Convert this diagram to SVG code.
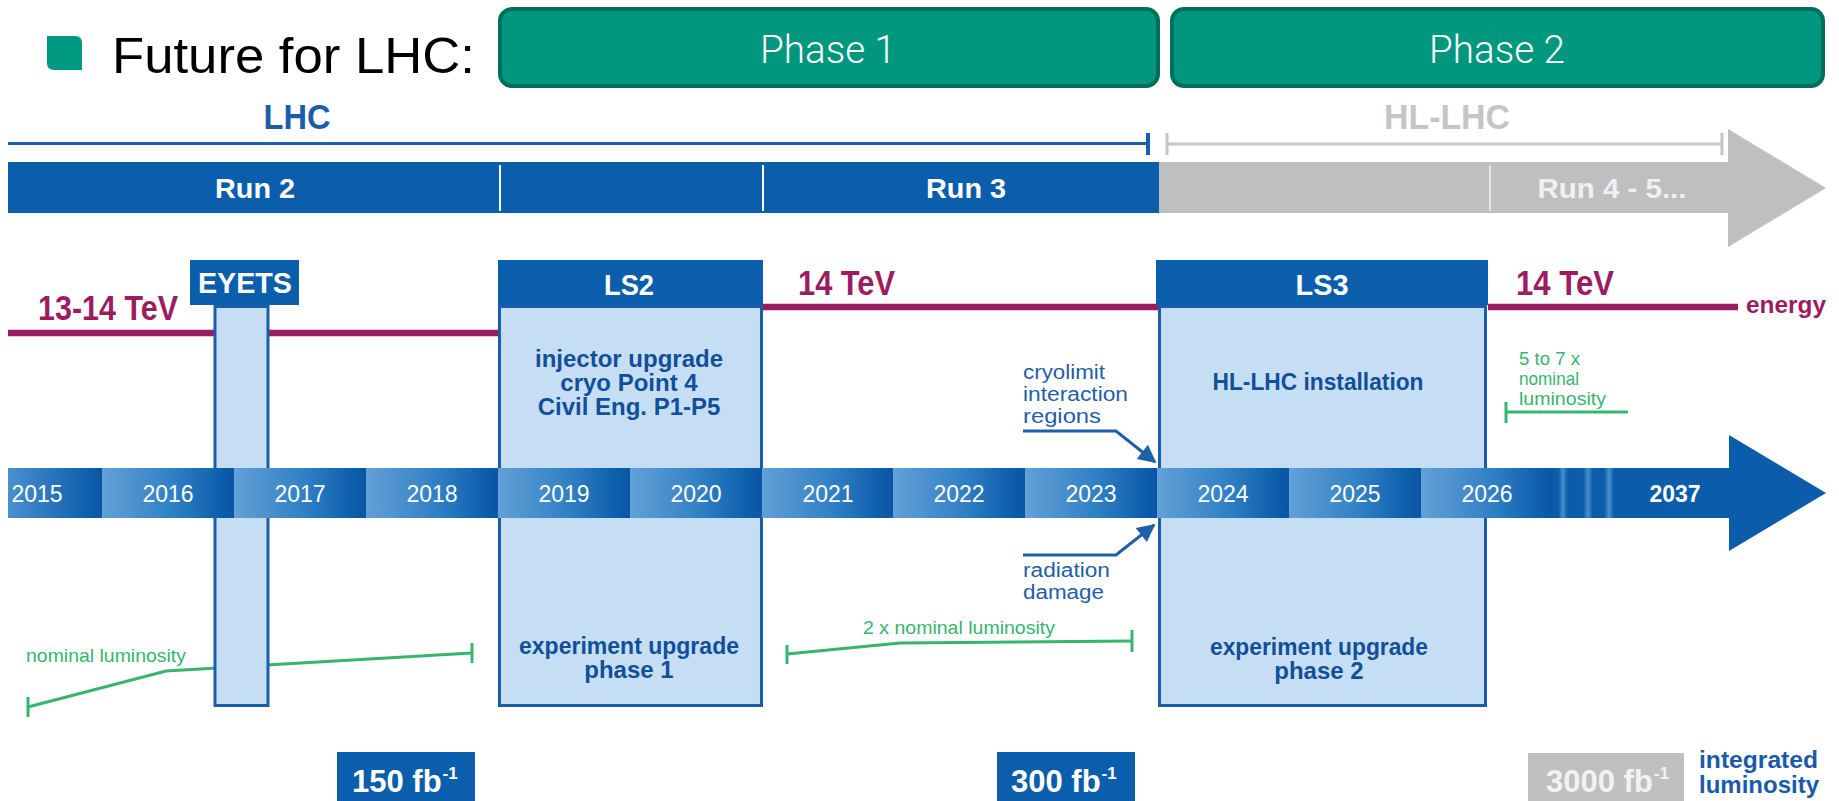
<svg xmlns="http://www.w3.org/2000/svg" width="1839" height="801" viewBox="0 0 1839 801">
<style>
text{font-family:"Liberation Sans",Arial,sans-serif}
.b{font-weight:bold}
.yr{fill:#ffffff;font-size:23px;text-anchor:middle}
.box{fill:#c6def3;stroke:#1a5dab;stroke-width:3}
.hdr{fill:#0b5eab}
.hdrt{fill:#ffffff;font-size:29px;font-weight:bold;text-anchor:middle}
.en{stroke:#9c1d5f;stroke-width:6.5;fill:none}
.ent{fill:#9c1d5f;font-size:35px;font-weight:bold}
.lum{stroke:#36b56f;stroke-width:3;fill:none}
.gtxt{fill:#36b56f;font-size:19px}
.ann{fill:#1f5ea8;font-size:19.5px}
.annl{stroke:#1f5ea8;stroke-width:3;fill:none}
.btxt{fill:#124f9b;font-size:24px;font-weight:bold;text-anchor:middle}
.phase{fill:#00977f;stroke:#006e5c;stroke-width:4}
.pht{fill:#ffffff;font-family:Roboto,"Liberation Sans",sans-serif;font-weight:300;font-size:38px;text-anchor:middle}
.seg{fill:url(#gseg)}
.fb{fill:#ffffff;font-size:31px;font-weight:bold}
</style>
<defs>
<linearGradient id="gseg" x1="0" y1="0" x2="1" y2="0">
<stop offset="0" stop-color="#63a0d7"/>
<stop offset="0.55" stop-color="#2f7fc4"/>
<stop offset="0.9" stop-color="#0d5eab"/>
<stop offset="1" stop-color="#0a56a3"/>
</linearGradient>
<linearGradient id="gfirst" x1="0" y1="0" x2="1" y2="0">
<stop offset="0" stop-color="#4990cf"/>
<stop offset="0.85" stop-color="#0e5fac"/>
<stop offset="1" stop-color="#0a56a3"/>
</linearGradient>
<linearGradient id="gstripe" x1="0" y1="0" x2="1" y2="0">
<stop offset="0" stop-color="#0b5cab"/>
<stop offset="0.08" stop-color="#0b5cab"/>
<stop offset="0.14" stop-color="#4a8fcf"/>
<stop offset="0.21" stop-color="#0b5cab"/>
<stop offset="0.43" stop-color="#0b5cab"/>
<stop offset="0.5" stop-color="#4a8fcf"/>
<stop offset="0.57" stop-color="#0b5cab"/>
<stop offset="0.73" stop-color="#0b5cab"/>
<stop offset="0.8" stop-color="#4a8fcf"/>
<stop offset="0.87" stop-color="#0b5cab"/>
<stop offset="1" stop-color="#0b5cab"/>
</linearGradient>
<marker id="ah" viewBox="0 0 10 10" refX="9" refY="5" markerWidth="22" markerHeight="18" orient="auto" markerUnits="userSpaceOnUse">
<path d="M0,0 L10,5 L0,10 z" fill="#1f5ea8"/>
</marker>
</defs>

<rect x="0" y="0" width="1839" height="801" fill="#ffffff"/>

<g id="title">
<path d="M47,36 H75 Q82,36 82,43 V70 H54 Q47,70 47,63 Z" fill="#009982"/>
<text x="112" y="73" font-size="50" fill="#000000" textLength="363" lengthAdjust="spacingAndGlyphs">Future for LHC:</text>
</g>

<g id="phase1">
<rect class="phase" x="500" y="9" width="658" height="77" rx="12"/>
<text class="pht" x="828" y="63" textLength="136" lengthAdjust="spacingAndGlyphs">Phase 1</text>
</g>
<g id="phase2">
<rect class="phase" x="1172" y="9" width="651" height="77" rx="12"/>
<text class="pht" x="1497" y="63" textLength="136" lengthAdjust="spacingAndGlyphs">Phase 2</text>
</g>

<g id="lhc-span">
<text class="b" x="297" y="129" font-size="35" fill="#1a5eab" text-anchor="middle" textLength="67" lengthAdjust="spacingAndGlyphs">LHC</text>
<line x1="8" y1="143.5" x2="1148" y2="143.5" stroke="#1a5eab" stroke-width="3"/>
<line x1="1148" y1="133" x2="1148" y2="155" stroke="#1a5eab" stroke-width="4"/>
</g>
<g id="hllhc-span">
<text class="b" x="1447" y="129" font-size="35" fill="#c4c5c7" text-anchor="middle" textLength="126" lengthAdjust="spacingAndGlyphs">HL-LHC</text>
<line x1="1167" y1="144" x2="1722" y2="144" stroke="#c4c5c7" stroke-width="3"/>
<line x1="1167" y1="133" x2="1167" y2="155" stroke="#c4c5c7" stroke-width="3"/>
<line x1="1722" y1="133" x2="1722" y2="155" stroke="#c4c5c7" stroke-width="3"/>
</g>

<g id="run-bar">
<rect x="8" y="162" width="1151" height="51" fill="#0b5eab"/>
<polygon points="1159,162 1728,162 1728,129 1826,188 1728,247 1728,213 1159,213" fill="#bebfc1"/>
<line x1="500" y1="165" x2="500" y2="211" stroke="#ffffff" stroke-width="2"/>
<line x1="763" y1="165" x2="763" y2="211" stroke="#ffffff" stroke-width="2"/>
<line x1="1490" y1="165" x2="1490" y2="211" stroke="#e6e6e7" stroke-width="2"/>
<text class="b" x="255" y="198" font-size="28" fill="#ffffff" text-anchor="middle" textLength="80" lengthAdjust="spacingAndGlyphs">Run 2</text>
<text class="b" x="966" y="198" font-size="28" fill="#ffffff" text-anchor="middle" textLength="80" lengthAdjust="spacingAndGlyphs">Run 3</text>
<text class="b" x="1612" y="198" font-size="28" fill="#f0f0f0" text-anchor="middle" textLength="149" lengthAdjust="spacingAndGlyphs">Run 4 - 5...</text>
</g>

<g id="energy">
<line class="en" x1="8" y1="333" x2="498" y2="333"/>
<line class="en" x1="762" y1="307" x2="1158" y2="307"/>
<line class="en" x1="1488" y1="307" x2="1738" y2="307"/>
<text class="ent" x="38" y="320" textLength="140" lengthAdjust="spacingAndGlyphs">13-14 TeV</text>
<text class="ent" x="798" y="295" textLength="97" lengthAdjust="spacingAndGlyphs">14 TeV</text>
<text class="ent" x="1516" y="295" textLength="98" lengthAdjust="spacingAndGlyphs">14 TeV</text>
<text class="b" x="1746" y="313" font-size="24" fill="#9c1d5f" textLength="80" lengthAdjust="spacingAndGlyphs">energy</text>
</g>

<g id="luminosity-lines">
<polyline class="lum" points="28,707 166,671 472,653"/>
<line class="lum" x1="28" y1="697" x2="28" y2="717"/>
<line class="lum" x1="472" y1="643" x2="472" y2="663"/>
<text class="gtxt" x="26" y="662" textLength="160" lengthAdjust="spacingAndGlyphs">nominal luminosity</text>
<polyline class="lum" points="787,654 900,643 1132,641"/>
<line class="lum" x1="787" y1="645" x2="787" y2="664"/>
<line class="lum" x1="1132" y1="630" x2="1132" y2="652"/>
<text class="gtxt" x="863" y="634" textLength="192" lengthAdjust="spacingAndGlyphs">2 x nominal luminosity</text>
<line class="lum" x1="1506" y1="412" x2="1628" y2="412"/>
<line class="lum" x1="1506" y1="402" x2="1506" y2="423"/>
<text class="gtxt" x="1519" y="365" font-size="18" textLength="61" lengthAdjust="spacingAndGlyphs">5 to 7 x</text>
<text class="gtxt" x="1519" y="385" font-size="18" textLength="60" lengthAdjust="spacingAndGlyphs">nominal</text>
<text class="gtxt" x="1519" y="405" font-size="18" textLength="87" lengthAdjust="spacingAndGlyphs">luminosity</text>
</g>

<g id="eyets">
<rect class="hdr" x="190" y="260" width="109" height="45"/>
<text class="hdrt" x="245" y="293" font-size="28" textLength="94" lengthAdjust="spacingAndGlyphs">EYETS</text>
<rect class="box" x="215" y="306.5" width="53" height="399"/>
</g>

<g id="ls2">
<rect class="hdr" x="498" y="260" width="265" height="45"/>
<text class="hdrt" x="629" y="295" textLength="50" lengthAdjust="spacingAndGlyphs">LS2</text>
<rect class="box" x="499.5" y="306.5" width="262" height="399"/>
<text class="btxt" x="629" y="367">injector upgrade</text>
<text class="btxt" x="629" y="391">cryo Point 4</text>
<text class="btxt" x="629" y="415">Civil Eng. P1-P5</text>
<text class="btxt" x="629" y="654" textLength="220" lengthAdjust="spacingAndGlyphs">experiment upgrade</text>
<text class="btxt" x="629" y="678">phase 1</text>
</g>

<g id="ls3">
<rect class="hdr" x="1156" y="260" width="332" height="45"/>
<text class="hdrt" x="1322" y="295" textLength="53" lengthAdjust="spacingAndGlyphs">LS3</text>
<rect class="box" x="1159.5" y="306.5" width="326" height="399"/>
<text class="btxt" x="1318" y="390" textLength="211" lengthAdjust="spacingAndGlyphs">HL-LHC installation</text>
<text class="btxt" x="1319" y="655" textLength="218" lengthAdjust="spacingAndGlyphs">experiment upgrade</text>
<text class="btxt" x="1319" y="679">phase 2</text>
</g>

<g id="year-bar">
<rect x="8" y="468" width="94" height="50" fill="url(#gfirst)"/>
<rect class="seg" x="102" y="468" width="132" height="50"/>
<rect class="seg" x="234" y="468" width="132" height="50"/>
<rect class="seg" x="366" y="468" width="132" height="50"/>
<rect class="seg" x="498" y="468" width="132" height="50"/>
<rect class="seg" x="630" y="468" width="132" height="50"/>
<rect class="seg" x="762" y="468" width="131" height="50"/>
<rect class="seg" x="893" y="468" width="132" height="50"/>
<rect class="seg" x="1025" y="468" width="132" height="50"/>
<rect class="seg" x="1157" y="468" width="132" height="50"/>
<rect class="seg" x="1289" y="468" width="132" height="50"/>
<rect class="seg" x="1421" y="468" width="133" height="50"/>
<rect x="1553" y="468" width="70" height="50" fill="url(#gstripe)"/>
<polygon points="1622,468 1729,468 1729,435 1826,493 1729,551 1729,518 1622,518" fill="#0b5cab"/>
<text class="yr" x="37" y="502">2015</text>
<text class="yr" x="168" y="502">2016</text>
<text class="yr" x="300" y="502">2017</text>
<text class="yr" x="432" y="502">2018</text>
<text class="yr" x="564" y="502">2019</text>
<text class="yr" x="696" y="502">2020</text>
<text class="yr" x="828" y="502">2021</text>
<text class="yr" x="959" y="502">2022</text>
<text class="yr" x="1091" y="502">2023</text>
<text class="yr" x="1223" y="502">2024</text>
<text class="yr" x="1355" y="502">2025</text>
<text class="yr" x="1487" y="502">2026</text>
<text class="yr b" x="1675" y="502">2037</text>
</g>

<g id="annotations">
<text class="ann" x="1023" y="379" textLength="82" lengthAdjust="spacingAndGlyphs">cryolimit</text>
<text class="ann" x="1023" y="401" textLength="105" lengthAdjust="spacingAndGlyphs">interaction</text>
<text class="ann" x="1023" y="423" textLength="78" lengthAdjust="spacingAndGlyphs">regions</text>
<text class="ann" x="1023" y="577" textLength="87" lengthAdjust="spacingAndGlyphs">radiation</text>
<text class="ann" x="1023" y="599" textLength="81" lengthAdjust="spacingAndGlyphs">damage</text>
</g>

<g id="connectors">
<polyline class="annl" points="1023,431 1116,431 1155,462" marker-end="url(#ah)"/>
<polyline class="annl" points="1023,555 1116,555 1154,525" marker-end="url(#ah)"/>
</g>

<g id="lumi150">
<rect x="337" y="752" width="138" height="49" fill="#0b5eab"/>
<text class="fb" x="352" y="792">150 fb<tspan dx="1" dy="-13" font-size="17">-1</tspan></text>
</g>
<g id="lumi300">
<rect x="997" y="752" width="138" height="49" fill="#0b5eab"/>
<text class="fb" x="1011" y="792">300 fb<tspan dx="1" dy="-13" font-size="17">-1</tspan></text>
</g>
<g id="lumi3000">
<rect x="1528" y="753" width="156" height="48" fill="#bfc0c2"/>
<text class="fb" x="1546" y="792" style="fill:#f2f2f2">3000 fb<tspan dx="1" dy="-13" font-size="17">-1</tspan></text>
</g>
<g id="intlumi-label">
<text class="b" x="1699" y="768" font-size="24" fill="#1a5aa8" textLength="119" lengthAdjust="spacingAndGlyphs">integrated</text>
<text class="b" x="1699" y="793" font-size="24" fill="#1a5aa8" textLength="120" lengthAdjust="spacingAndGlyphs">luminosity</text>
</g>
</svg>
